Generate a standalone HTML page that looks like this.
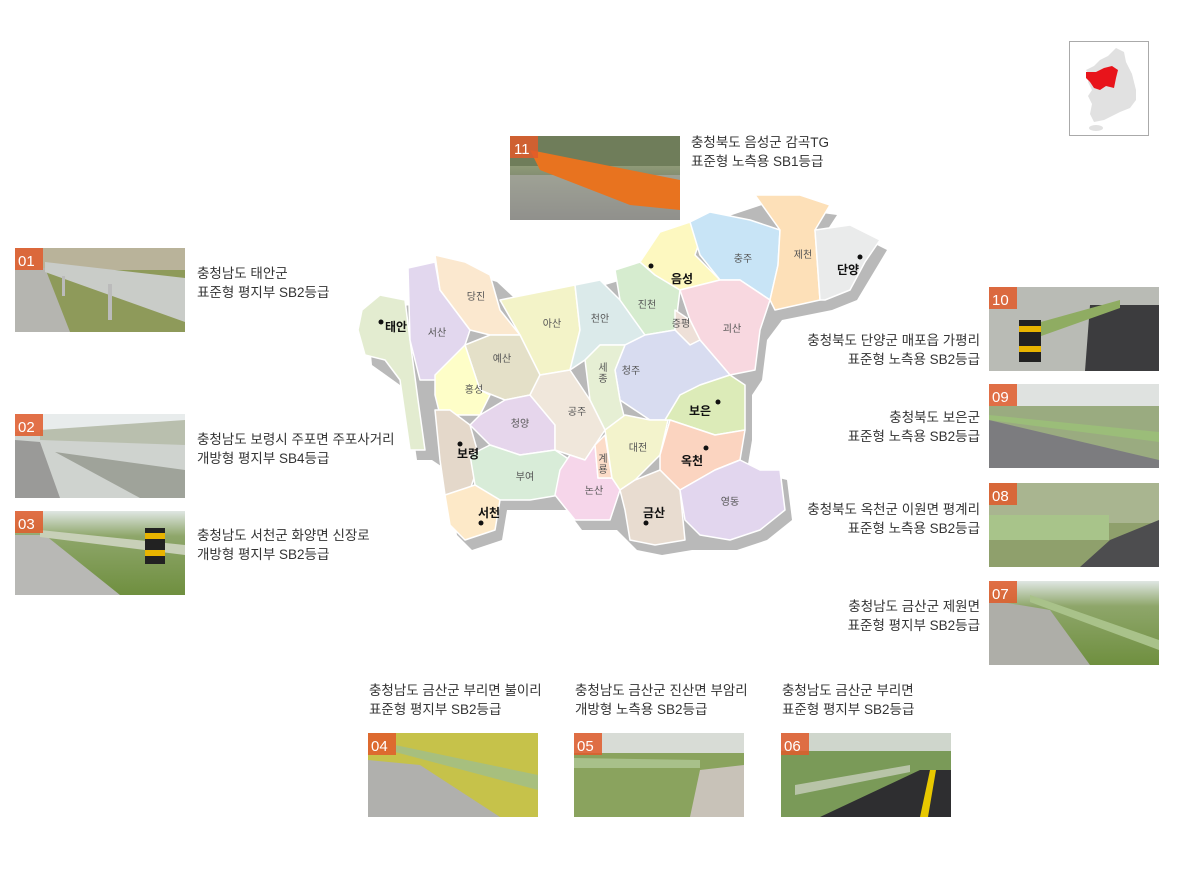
<!DOCTYPE html>
<html><head><meta charset="utf-8">
<style>
html,body{margin:0;padding:0;background:#fff;}
body{width:1191px;height:888px;overflow:hidden;font-family:"Liberation Sans","Noto Sans CJK KR",sans-serif;}
svg text{font-family:"Liberation Sans","Noto Sans CJK KR",sans-serif;}
</style></head><body>
<svg width="1191" height="888" viewBox="0 0 1191 888" xmlns="http://www.w3.org/2000/svg">
<defs>
<linearGradient id="grass" x1="0" y1="0" x2="0" y2="1"><stop offset="0" stop-color="#dfe6e3"/><stop offset="0.3" stop-color="#8ea66a"/><stop offset="1" stop-color="#6f8f3f"/></linearGradient>
<linearGradient id="road" x1="0" y1="0" x2="0" y2="1"><stop offset="0" stop-color="#e6e6e6"/><stop offset="0.35" stop-color="#8f9b78"/><stop offset="1" stop-color="#555"/></linearGradient>
</defs>

<!-- mini map -->
<rect x="1069.5" y="41.5" width="79" height="94" fill="#fff" stroke="#aaa"/>
<path d="M1116,48 L1124,52 L1126,62 L1132,74 L1136,90 L1136,100 L1130,108 L1120,112 L1112,116 L1104,120 L1094,122 L1090,114 L1092,104 L1088,96 L1092,90 L1088,82 L1090,76 L1086,70 L1094,66 L1100,60 L1108,56 Z" fill="#e1e1e1"/>
<path d="M1086,72 L1096,72 L1104,68 L1112,66 L1118,70 L1116,78 L1114,88 L1106,86 L1100,90 L1094,88 L1090,82 L1086,78 Z" fill="#e8141b"/>
<ellipse cx="1096" cy="128" rx="7" ry="3" fill="#e1e1e1"/>

<!-- map shadow + map -->
<g transform="translate(7,10)" fill="#b9b9b9">
<path d="M360,300 L405,295 L408,265 L435,255 L490,272 L520,300 L575,282 L615,270 L640,258 L660,228 L690,218 L710,210 L755,195 L830,205 L815,228 L850,225 L880,240 L850,290 L825,300 L775,310 L760,330 L755,370 L745,385 L745,430 L740,460 L780,470 L785,510 L760,530 L730,540 L685,540 L655,545 L630,540 L610,520 L575,520 L560,500 L530,500 L500,500 L495,530 L465,540 L450,525 L440,460 L425,450 L410,450 L400,380 L365,355 Z"/>
</g>
<g stroke="#fff" stroke-width="1.5" stroke-linejoin="round">
<polygon fill="#e3ecd0" points="362,310 380,295 405,300 410,340 418,400 425,450 410,450 400,380 385,360 365,355 358,330"/>
<polygon fill="#e2d7ee" points="408,268 435,262 440,290 470,330 465,345 440,380 420,380 410,340"/>
<polygon fill="#fbe8cf" points="435,255 465,262 490,275 500,310 520,335 490,335 470,330 440,290"/>
<polygon fill="#f3f3c8" points="500,300 550,290 575,285 580,330 570,370 540,375 520,335"/>
<polygon fill="#dbeaea" points="575,285 600,280 620,300 645,335 625,345 600,345 585,360 570,370 580,330"/>
<polygon fill="#d6eccf" points="615,270 640,262 655,275 680,290 675,330 645,335 620,300"/>
<polygon fill="#fdf8c0" points="640,262 660,232 690,222 700,240 695,255 720,280 680,290 655,275"/>
<polygon fill="#c8e4f6" points="690,222 710,212 750,220 780,230 778,265 770,300 740,280 720,280 700,255"/>
<polygon fill="#fde0b8" points="755,195 800,195 830,205 815,230 820,300 775,310 770,300 778,265 780,230"/>
<polygon fill="#eaebeb" points="815,230 850,225 880,240 865,262 850,290 825,300 820,300"/>
<polygon fill="#f8d8e0" points="680,290 720,280 740,280 770,300 760,330 755,370 730,375 700,340 690,320"/>
<polygon fill="#eee0d8" points="675,310 690,320 700,340 690,345 675,330"/>
<polygon fill="#d8dcf0" points="625,345 645,335 675,330 690,345 700,340 730,375 700,385 680,395 665,420 650,420 620,400 615,370"/>
<polygon fill="#e6efd4" points="585,360 600,345 625,345 615,370 620,400 625,420 605,430 590,400"/>
<polygon fill="#e4e0c8" points="465,345 490,335 520,335 540,375 530,395 505,400 480,390"/>
<polygon fill="#fefec8" points="435,375 465,345 480,390 490,395 480,415 440,415 435,395"/>
<polygon fill="#e4d8ca" points="435,410 450,410 470,425 480,460 470,490 445,495 440,460"/>
<polygon fill="#e6d6ec" points="480,415 505,400 530,395 555,425 555,450 520,455 490,445 470,425"/>
<polygon fill="#f0e7db" points="530,395 540,375 570,370 590,400 605,430 595,445 585,460 570,455 555,450 555,425"/>
<polygon fill="#d8ecd8" points="470,455 490,445 520,455 555,450 570,460 560,495 530,500 500,500 475,485"/>
<polygon fill="#fde9c8" points="445,495 475,485 500,500 495,530 465,540 450,525"/>
<polygon fill="#f6d6ea" points="560,470 570,455 585,460 595,445 598,478 612,478 620,490 610,520 575,520 555,495"/>
<polygon fill="#fcdcc8" points="595,445 605,435 612,478 598,478"/>
<polygon fill="#f3f3cc" points="605,430 625,415 650,420 668,420 660,455 635,480 620,490 612,478"/>
<polygon fill="#dcebb8" points="665,420 680,395 700,385 730,375 745,385 745,430 715,435 670,420"/>
<polygon fill="#fbd4c0" points="670,420 715,435 745,430 740,460 715,470 680,490 660,470 660,455"/>
<polygon fill="#e8dcd0" points="620,490 635,480 660,470 680,490 685,540 655,545 630,540 625,510"/>
<polygon fill="#e2d6ee" points="680,490 715,470 740,460 760,470 780,470 785,510 760,530 730,540 700,535 685,520"/>
</g>
<g font-size="10" fill="#555" text-anchor="middle">
<text x="476" y="300">당진</text><text x="437" y="336">서산</text><text x="552" y="327">아산</text><text x="600" y="322">천안</text><text x="647" y="308">진천</text>
<text x="743" y="262">충주</text><text x="803" y="258">제천</text><text x="681" y="327">증평</text><text x="732" y="332">괴산</text>
<text x="502" y="362">예산</text><text x="474" y="393">홍성</text><text x="520" y="427">청양</text><text x="577" y="415">공주</text><text x="631" y="374">청주</text>
<text x="603" y="371">세</text><text x="603" y="382">종</text><text x="638" y="451">대전</text><text x="603" y="462">계</text><text x="603" y="473">룡</text>
<text x="525" y="480">부여</text><text x="594" y="494">논산</text><text x="730" y="505">영동</text>
</g>
<g font-size="12" font-weight="bold" fill="#111">
<text x="385" y="331">태안</text><text x="671" y="283">음성</text><text x="837" y="274">단양</text><text x="689" y="415">보은</text>
<text x="457" y="458">보령</text><text x="681" y="465">옥천</text><text x="478" y="517">서천</text><text x="643" y="517">금산</text>
</g>
<g fill="#111">
<circle cx="381" cy="322" r="2.5"/><circle cx="651" cy="266" r="2.5"/><circle cx="860" cy="257" r="2.5"/><circle cx="718" cy="402" r="2.5"/>
<circle cx="460" cy="444" r="2.5"/><circle cx="706" cy="448" r="2.5"/><circle cx="481" cy="523" r="2.5"/><circle cx="646" cy="523" r="2.5"/>
</g>

<!-- photos -->
<g>
<!-- 11 -->
<rect x="510" y="136" width="170" height="84" fill="url(#road)"/>
<rect x="510" y="136" width="170" height="30" fill="#6f7d5a"/>
<rect x="510" y="175" width="170" height="45" fill="#a9a9a4" opacity="0.7"/>
<polygon points="530,150 680,180 680,210 630,205 540,170" fill="#e8731f"/>
<!-- 01 -->
<rect x="15" y="248" width="170" height="84" fill="#8e9a5a"/>
<rect x="15" y="248" width="170" height="22" fill="#b9b39a"/>
<polygon points="15,270 45,268 70,332 15,332" fill="#b5b5b0"/>
<polygon points="45,262 185,278 185,322 45,272" fill="#c9ccc8"/>
<rect x="62" y="276" width="3" height="20" fill="#bbb"/><rect x="108" y="284" width="4" height="36" fill="#bbb"/>
<!-- 02 -->
<rect x="15" y="414" width="170" height="84" fill="#cfd3cf"/>
<rect x="15" y="414" width="170" height="18" fill="#e8ecec"/>
<polygon points="15,440 40,442 60,498 15,498" fill="#9a9a98"/>
<polygon points="40,430 185,420 185,445 40,440" fill="#b9bfae"/>
<polygon points="55,452 185,470 185,498 140,498" fill="#9fa39a"/>
<!-- 03 -->
<rect x="15" y="511" width="170" height="84" fill="url(#grass)"/>
<polygon points="15,535 45,535 120,595 15,595" fill="#b8b8b5"/>
<polygon points="40,530 185,545 185,555 40,537" fill="#c8d0b8"/>
<rect x="145" y="528" width="20" height="36" fill="#222"/><rect x="145" y="533" width="20" height="6" fill="#e8b400"/><rect x="145" y="550" width="20" height="6" fill="#e8b400"/>
<!-- 10 -->
<rect x="989" y="287" width="170" height="84" fill="#b9bbb5"/>
<polygon points="1090,305 1159,305 1159,371 1085,371" fill="#3c3c3e"/>
<polygon points="1030,325 1120,300 1120,308 1030,340" fill="#8fac62"/>
<rect x="1019" y="320" width="22" height="42" fill="#222"/><rect x="1019" y="326" width="22" height="6" fill="#e8b400"/><rect x="1019" y="346" width="22" height="6" fill="#e8b400"/>
<!-- 09 -->
<rect x="989" y="384" width="170" height="84" fill="#9aab80"/>
<rect x="989" y="384" width="170" height="22" fill="#dfe2e0"/>
<polygon points="989,420 1159,460 1159,468 989,468" fill="#7c7c7f"/>
<polygon points="989,415 1159,432 1159,442 989,420" fill="#9bbd79"/>
<!-- 08 -->
<rect x="989" y="483" width="170" height="84" fill="#8fa06c"/>
<rect x="989" y="483" width="170" height="40" fill="#a9b590"/>
<polygon points="1110,540 1159,520 1159,567 1080,567" fill="#4d4d4f"/>
<rect x="989" y="515" width="120" height="25" fill="#a8c48a"/>
<!-- 07 -->
<rect x="989" y="581" width="170" height="84" fill="url(#grass)"/>
<polygon points="989,600 1050,610 1090,665 989,665" fill="#aeaea8"/>
<polygon points="1030,595 1159,640 1159,650 1030,602" fill="#a9c28a"/>
<!-- 04 -->
<rect x="368" y="733" width="170" height="84" fill="#c6c24a"/>
<polygon points="368,760 420,765 500,817 368,817" fill="#b0b0ad"/>
<polygon points="395,745 538,775 538,790 395,752" fill="#a7bf7e"/>
<!-- 05 -->
<rect x="574" y="733" width="170" height="84" fill="#8aa35e"/>
<rect x="574" y="733" width="170" height="20" fill="#d8dcd6"/>
<polygon points="700,770 744,765 744,817 690,817" fill="#c8c2b8"/>
<polygon points="574,758 700,760 700,768 574,768" fill="#a8c08a"/>
<!-- 06 -->
<rect x="781" y="733" width="170" height="84" fill="#7a9a58"/>
<rect x="781" y="733" width="170" height="18" fill="#cfd6cc"/>
<polygon points="820,817 920,770 951,770 951,817" fill="#2e2e30"/>
<polygon points="930,770 936,770 928,817 920,817" fill="#e8c800"/>
<polygon points="795,785 910,765 910,772 795,795" fill="#b8c4a8"/>
</g>
<!-- badges -->
<g fill="#e05a2a" fill-opacity="0.85">
<rect x="510" y="136" width="28" height="22"/><rect x="15" y="248" width="28" height="22"/><rect x="15" y="414" width="28" height="22"/><rect x="15" y="511" width="28" height="22"/>
<rect x="989" y="287" width="28" height="22"/><rect x="989" y="384" width="28" height="22"/><rect x="989" y="483" width="28" height="22"/><rect x="989" y="581" width="28" height="22"/>
<rect x="368" y="733" width="28" height="22"/><rect x="574" y="733" width="28" height="22"/><rect x="781" y="733" width="28" height="22"/>
</g>
<g fill="#fff" font-size="15">
<text x="514" y="154">11</text><text x="18" y="266">01</text><text x="18" y="432">02</text><text x="18" y="529">03</text>
<text x="992" y="305">10</text><text x="992" y="402">09</text><text x="992" y="501">08</text><text x="992" y="599">07</text>
<text x="371" y="751">04</text><text x="577" y="751">05</text><text x="784" y="751">06</text>
</g>

<!-- captions -->
<g font-size="13.5" fill="#333">
<text x="691" y="147">충청북도 음성군 감곡TG</text><text x="691" y="166">표준형 노측용 SB1등급</text>
<text x="197" y="278">충청남도 태안군</text><text x="197" y="297">표준형 평지부 SB2등급</text>
<text x="197" y="444">충청남도 보령시 주포면 주포사거리</text><text x="197" y="463">개방형 평지부 SB4등급</text>
<text x="197" y="540">충청남도 서천군 화양면 신장로</text><text x="197" y="559">개방형 평지부 SB2등급</text>
<text x="369" y="695">충청남도 금산군 부리면 불이리</text><text x="369" y="714">표준형 평지부 SB2등급</text>
<text x="575" y="695">충청남도 금산군 진산면 부암리</text><text x="575" y="714">개방형 노측용 SB2등급</text>
<text x="782" y="695">충청남도 금산군 부리면</text><text x="782" y="714">표준형 평지부 SB2등급</text>
</g>
<g font-size="13.5" fill="#333" text-anchor="end">
<text x="980" y="345">충청북도 단양군 매포읍 가평리</text><text x="980" y="364">표준형 노측용 SB2등급</text>
<text x="980" y="422">충청북도 보은군</text><text x="980" y="441">표준형 노측용 SB2등급</text>
<text x="980" y="514">충청북도 옥천군 이원면 평계리</text><text x="980" y="533">표준형 노측용 SB2등급</text>
<text x="980" y="611">충청남도 금산군 제원면</text><text x="980" y="630">표준형 평지부 SB2등급</text>
</g>
</svg>
</body></html>
